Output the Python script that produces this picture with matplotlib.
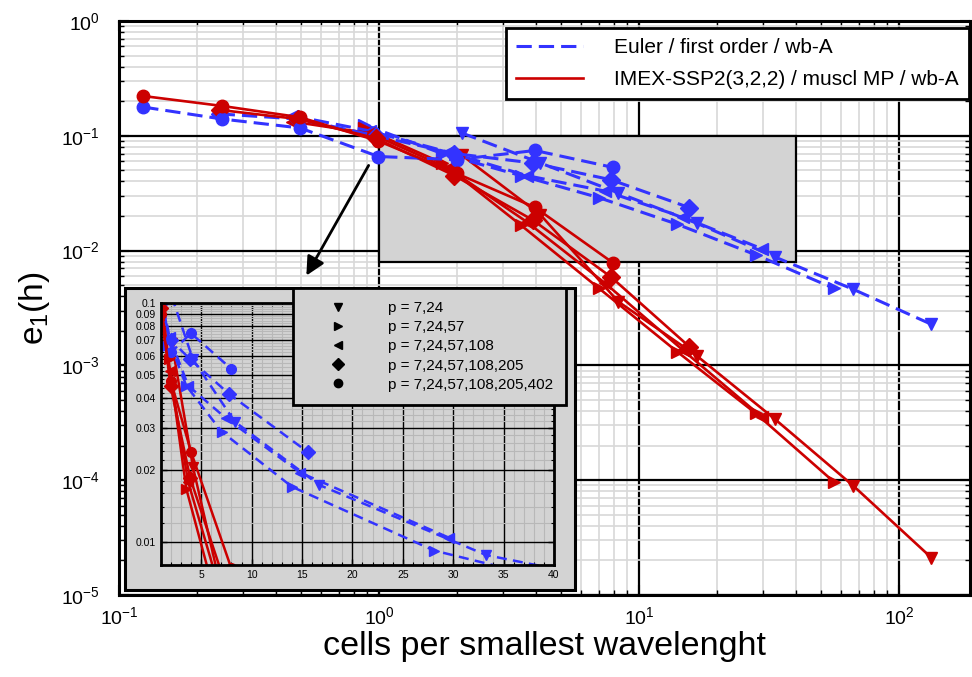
import numpy as np
import matplotlib.pyplot as plt
from matplotlib.patches import Rectangle
from matplotlib.lines import Line2D
from matplotlib.ticker import FixedLocator, FixedFormatter, LogLocator, NullFormatter

plt.rcParams['font.family'] = ['Liberation Sans', 'DejaVu Sans']
plt.rcParams['mathtext.fontset'] = 'custom'
plt.rcParams['mathtext.rm'] = 'Liberation Sans'

# wavenumber sets and their markers
p_labels = ['p = 7,24', 'p = 7,24,57', 'p = 7,24,57,108',
            'p = 7,24,57,108,205', 'p = 7,24,57,108,205,402']
markers = ['v', '>', '<', 'D', 'o']

# cells per smallest wavelength (N = 50 ... 3200 cells)
cpw_24 = [2.08, 4.17, 8.33, 16.7, 33.3, 66.7, 133.3]
cpw_57 = [0.877, 1.75, 3.51, 7.02, 14.0, 28.1, 56.1]
cpw_108 = [0.463, 0.926, 1.85, 3.70, 7.41, 14.8, 29.6]
cpw_205 = [0.244, 0.488, 0.976, 1.95, 3.90, 7.80, 15.6]
cpw_402 = [0.124, 0.249, 0.497, 0.995, 1.99, 3.98, 7.96]

# e1 error, Euler / first order / wb-A
euler_24 = [0.106, 0.058, 0.0318, 0.0173, 0.0088, 0.0046, 0.00228]
euler_57 = [0.125, 0.070, 0.045, 0.0289, 0.0170, 0.0092, 0.0047]
euler_108 = [0.150, 0.110, 0.072, 0.045, 0.033, 0.0195, 0.0104]
euler_205 = [0.155, 0.140, 0.100, 0.070, 0.058, 0.0414, 0.0237]
euler_402 = [0.178, 0.140, 0.117, 0.066, 0.062, 0.0745, 0.053]

# e1 error, IMEX-SSP2(3,2,2) / muscl MP / wb-A
imex_24 = [0.068, 0.0206, 0.00359, 0.00121, 3.41e-4, 8.95e-5, 2.11e-5]
imex_57 = [0.116, 0.058, 0.0167, 0.00469, 0.00132, 3.83e-4, 9.7e-5]
imex_108 = [0.133, 0.105, 0.052, 0.0178, 0.0052, 0.00135, 3.57e-4]
imex_205 = [0.168, 0.140, 0.095, 0.045, 0.0185, 0.0059, 0.00146]
imex_402 = [0.222, 0.182, 0.145, 0.090, 0.047, 0.0238, 0.0078]

cpw = [cpw_24, cpw_57, cpw_108, cpw_205, cpw_402]
euler = [euler_24, euler_57, euler_108, euler_205, euler_402]
imex = [imex_24, imex_57, imex_108, imex_205, imex_402]

blue = '#3333ff'
red = '#cc0000'
panel_grey = '#d3d3d3'

fig = plt.figure(figsize=(9.72, 6.77), dpi=100)
ax = fig.add_axes([0.1224, 0.1211, 0.8755, 0.8479])
ax.set_xscale('log')
ax.set_yscale('log')
ax.set_xlim(0.1, 187.5)
ax.set_ylim(1e-5, 1)

ax.xaxis.set_minor_locator(LogLocator(base=10, subs=np.arange(2, 10)))
ax.yaxis.set_minor_locator(LogLocator(base=10, subs=np.arange(2, 10), numticks=20))
ax.xaxis.set_minor_formatter(NullFormatter())
ax.yaxis.set_minor_formatter(NullFormatter())
ax.set_axisbelow(True)
ax.grid(which='minor', color='#d8d8d8', lw=1.2)
ax.grid(which='major', color='black', lw=1.6)
ax.tick_params(which='both', direction='in', top=True, right=True, labelsize=14)
ax.tick_params(which='major', length=7, width=1.5)
ax.tick_params(which='minor', length=3.5, width=1)
ax.tick_params(axis='y', pad=14)
ax.tick_params(axis='x', pad=8)
for s in ax.spines.values():
    s.set_linewidth(2.2)

# zoomed region
ax.add_patch(Rectangle((1, 0.008), 39, 0.092, facecolor=panel_grey,
                       edgecolor='black', lw=1.6, zorder=1))

for k in range(5):
    ax.plot(cpw[k], euler[k], color=blue, ls='--', dashes=(5, 2.3), lw=2.2,
            marker=markers[k], ms=9, zorder=3)
    ax.plot(cpw[k], imex[k], color=red, ls='-', lw=1.9,
            marker=markers[k], ms=9, zorder=3)

ax.set_xlabel('cells per smallest wavelenght', fontsize=24.5, labelpad=2)
ax.set_ylabel(r'e$_\mathregular{1}$(h)', fontsize=24, labelpad=6)

h_main = [Line2D([], [], color=blue, ls='--', dashes=(5, 2.3), lw=2.2),
          Line2D([], [], color=red, ls='-', lw=1.9)]
leg = ax.legend(h_main, ['Euler / first order / wb-A',
                         'IMEX-SSP2(3,2,2) / muscl MP / wb-A'],
                loc='upper right', bbox_to_anchor=(969 / 972, 1 - 28 / 677),
                bbox_transform=fig.transFigure, fontsize=15, handlelength=3.2,
                handletextpad=1.5, borderpad=0.5, labelspacing=0.6,
                fancybox=False, framealpha=1, edgecolor='black', borderaxespad=0)
leg.get_frame().set_linewidth(2)

ax.annotate('', xy=(305 / 972, 1 - 278 / 677), xytext=(370 / 972, 1 - 163 / 677),
            xycoords='figure fraction', textcoords='figure fraction',
            arrowprops=dict(arrowstyle='-|>', color='black', lw=2,
                            mutation_scale=28), zorder=6)

# grey panel holding the zoom
fig.add_artist(Rectangle((0.1286, 0.1285), 0.463, 0.4461,
                         transform=fig.transFigure, facecolor=panel_grey,
                         edgecolor='black', lw=2.2, zorder=2))

axi = fig.add_axes([0.1656, 0.1654, 0.4043, 0.3874], zorder=3)
axi.set_facecolor(panel_grey)
axi.set_yscale('log')
axi.set_xlim(1, 40)
axi.set_ylim(0.008, 0.1)
yt = [0.01 * i for i in range(1, 11)]
axi.yaxis.set_major_locator(FixedLocator(yt))
axi.yaxis.set_major_formatter(FixedFormatter(['0.01', '0.02', '0.03', '0.04', '0.05',
                                              '0.06', '0.07', '0.08', '0.09', '0.1']))
axi.yaxis.set_minor_locator(FixedLocator([0.002 * i for i in range(4, 50) if i % 5 != 0]))
axi.yaxis.set_minor_formatter(NullFormatter())
axi.xaxis.set_major_locator(FixedLocator([5, 10, 15, 20, 25, 30, 35, 40]))
axi.xaxis.set_minor_locator(FixedLocator(range(1, 40)))
axi.set_axisbelow(True)
axi.grid(which='minor', color='#b8b8b8', lw=0.8)
axi.grid(which='major', color='black', lw=1.0)
axi.tick_params(which='both', direction='in', top=True, right=True, labelsize=7.5)
axi.tick_params(which='major', length=4, width=1)
axi.tick_params(which='minor', length=2, width=0.8)
for s in axi.spines.values():
    s.set_linewidth(2)

for k in range(5):
    axi.plot(cpw[k], euler[k], color=blue, ls='--', dashes=(4, 2.5), lw=1.8,
             marker=markers[k], ms=7)
    axi.plot(cpw[k], imex[k], color=red, ls='-', lw=1.8,
             marker=markers[k], ms=7)

h_p = [Line2D([], [], color='black', ls='none', marker=m, ms=6) for m in markers]
legi = axi.legend(h_p, p_labels, loc='upper left',
                  bbox_to_anchor=(293 / 972, 1 - 288 / 677),
                  bbox_transform=fig.transFigure, fontsize=11, handlelength=4.18,
                  handletextpad=1.18, borderpad=0.85, labelspacing=0.34,
                  fancybox=False, framealpha=1, facecolor=panel_grey,
                  edgecolor='black', borderaxespad=0)
legi.get_frame().set_linewidth(2)

fig.savefig('out.png', dpi=100)
